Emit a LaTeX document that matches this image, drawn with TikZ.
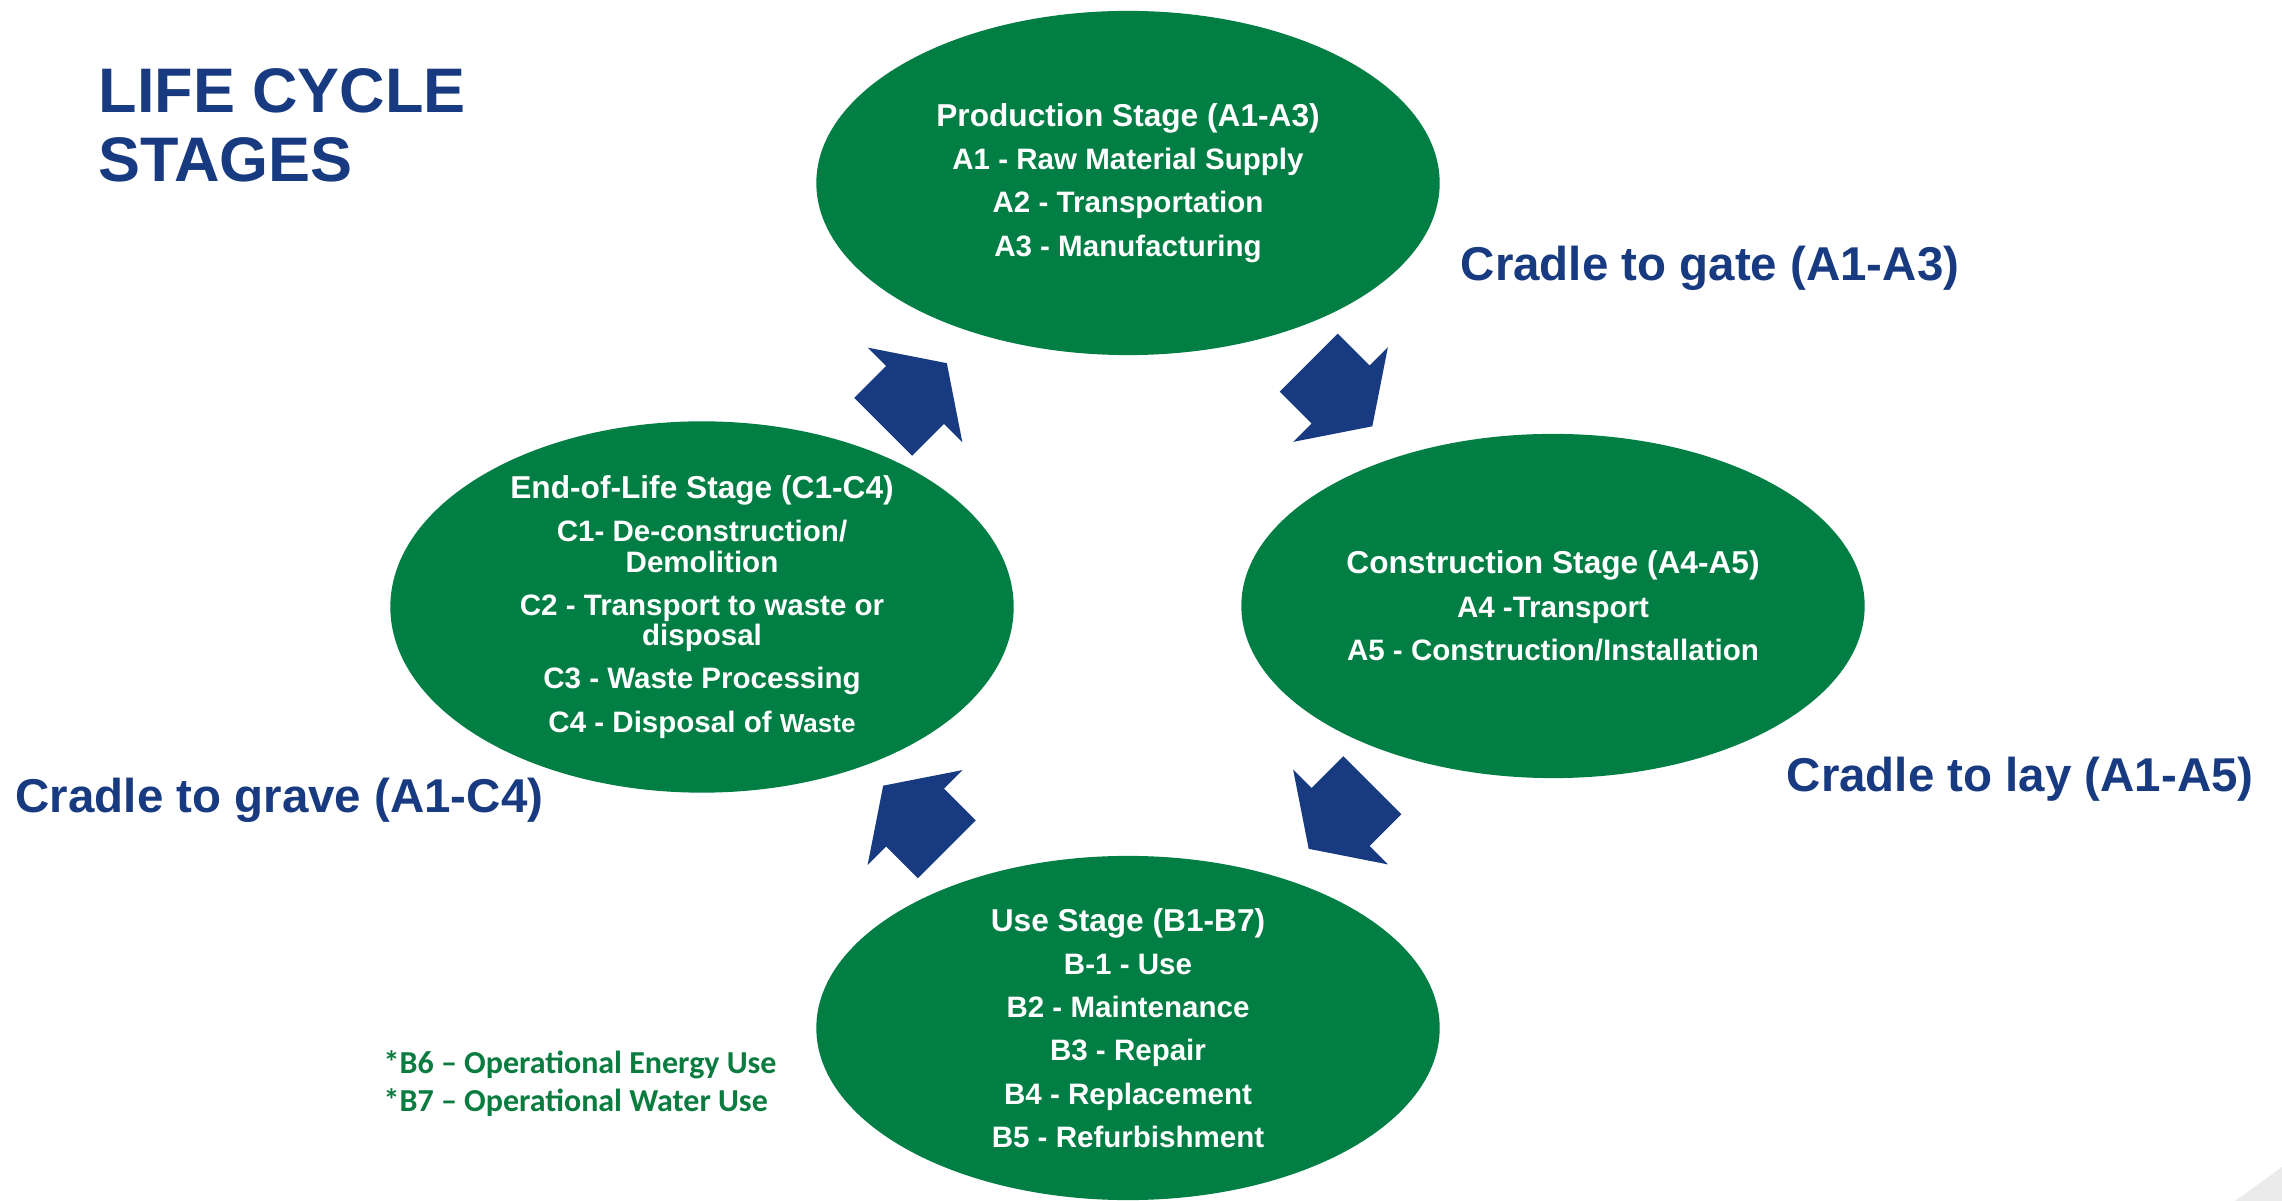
\documentclass[tikz,border=0pt]{standalone}
\usepackage{fontspec}
\setmainfont{Liberation Sans}
\newfontfamily\calibri{Carlito}
\usetikzlibrary{shapes.geometric,calc}

\definecolor{stagegreen}{HTML}{007E44}
\definecolor{notegreen}{HTML}{0B7C3F}
\definecolor{titleblue}{HTML}{173A80}
\definecolor{paper}{HTML}{EBEBEB}

\newcommand{\stagehead}[1]{{\fontsize{9}{9}\selectfont #1}}

\begin{document}
\begin{tikzpicture}[x=0.01cm,y=-0.01cm,
    stage/.style={ellipse, fill=stagegreen, text=white, align=center, inner sep=0pt,
        minimum width=6.23cm, minimum height=3.44cm,
        font=\bfseries\fontsize{8.4}{8.6}\selectfont},
    scope label/.style={anchor=base west, inner sep=0pt, text=titleblue,
        font=\bfseries\fontsize{13.5}{15}\selectfont},
    flow/.pic={\fill[titleblue] (-45,-41) -- (0,-41) -- (0,-67) -- (45,0) -- (0,67) -- (0,41) -- (-45,41) -- cycle;}]
    \fill[white] (0,0) rectangle (2282,1201);
    \useasboundingbox (0,0) rectangle (2282,1201);
    \fill[paper] (2235,1201) -- (2282,1167) -- (2282,1201) -- cycle;

    % title
    \node[anchor=north west, inner sep=0pt, align=left, text=titleblue,
        font=\bfseries\fontsize{17.9}{19.6}\selectfont] (title) at (98,68) {LIFE CYCLE\\STAGES};

    % stages
    \node[stage] (prod) at (1128,183) {\stagehead{Production Stage (A1-A3)}\\[3.7pt]
        A1 - Raw Material Supply\\[3.7pt] A2 - Transportation\\[3.7pt] A3 - Manufacturing};
    \node[stage] (cons) at (1553,606) {\stagehead{Construction Stage (A4-A5)}\\[3.7pt]
        A4 -Transport\\[3.7pt] A5 - Construction/Installation};
    \node[stage] (use) at (1128,1028) {\stagehead{Use Stage (B1-B7)}\\[3.7pt] B-1 - Use\\[3.7pt]
        B2 - Maintenance\\[3.7pt] B3 - Repair\\[3.7pt] B4 - Replacement\\[3.7pt] B5 - Refurbishment};
    \node[stage] (eol) at (702,607) {\stagehead{End-of-Life Stage (C1-C4)}\\[3.7pt]
        C1- De-construction/\\Demolition\\[3.7pt] C2 - Transport to waste or\\disposal\\[3.7pt]
        C3 - Waste Processing\\[3.7pt] C4 - Disposal of {\fontsize{7.4}{8}\selectfont Waste}};

    % cycle arrows
    \pic[rotate=45] at ($(eol)!0.5!(prod)$) {flow};
    \pic[rotate=-45] at ($(prod)!0.5!(cons)$) {flow};
    \pic[rotate=-135] at ($(cons)!0.5!(use)$) {flow};
    \pic[rotate=135] at ($(use)!0.5!(eol)$) {flow};

    % scopes
    \node[scope label] (gate) at (1460,281) {Cradle to gate (A1-A3)};
    \node[scope label] (lay) at (1786,792) {Cradle to lay (A1-A5)};
    \node[scope label] (grave) at (15,813) {Cradle to grave (A1-C4)};

    \node[anchor=base west, inner sep=0pt, align=left, text=notegreen,
        font=\calibri\bfseries\fontsize{9.1}{10.8}\selectfont] (note) at (383,1111)
        {*B6 – Operational Energy Use\\*B7 – Operational Water Use};
\end{tikzpicture}
\end{document}
